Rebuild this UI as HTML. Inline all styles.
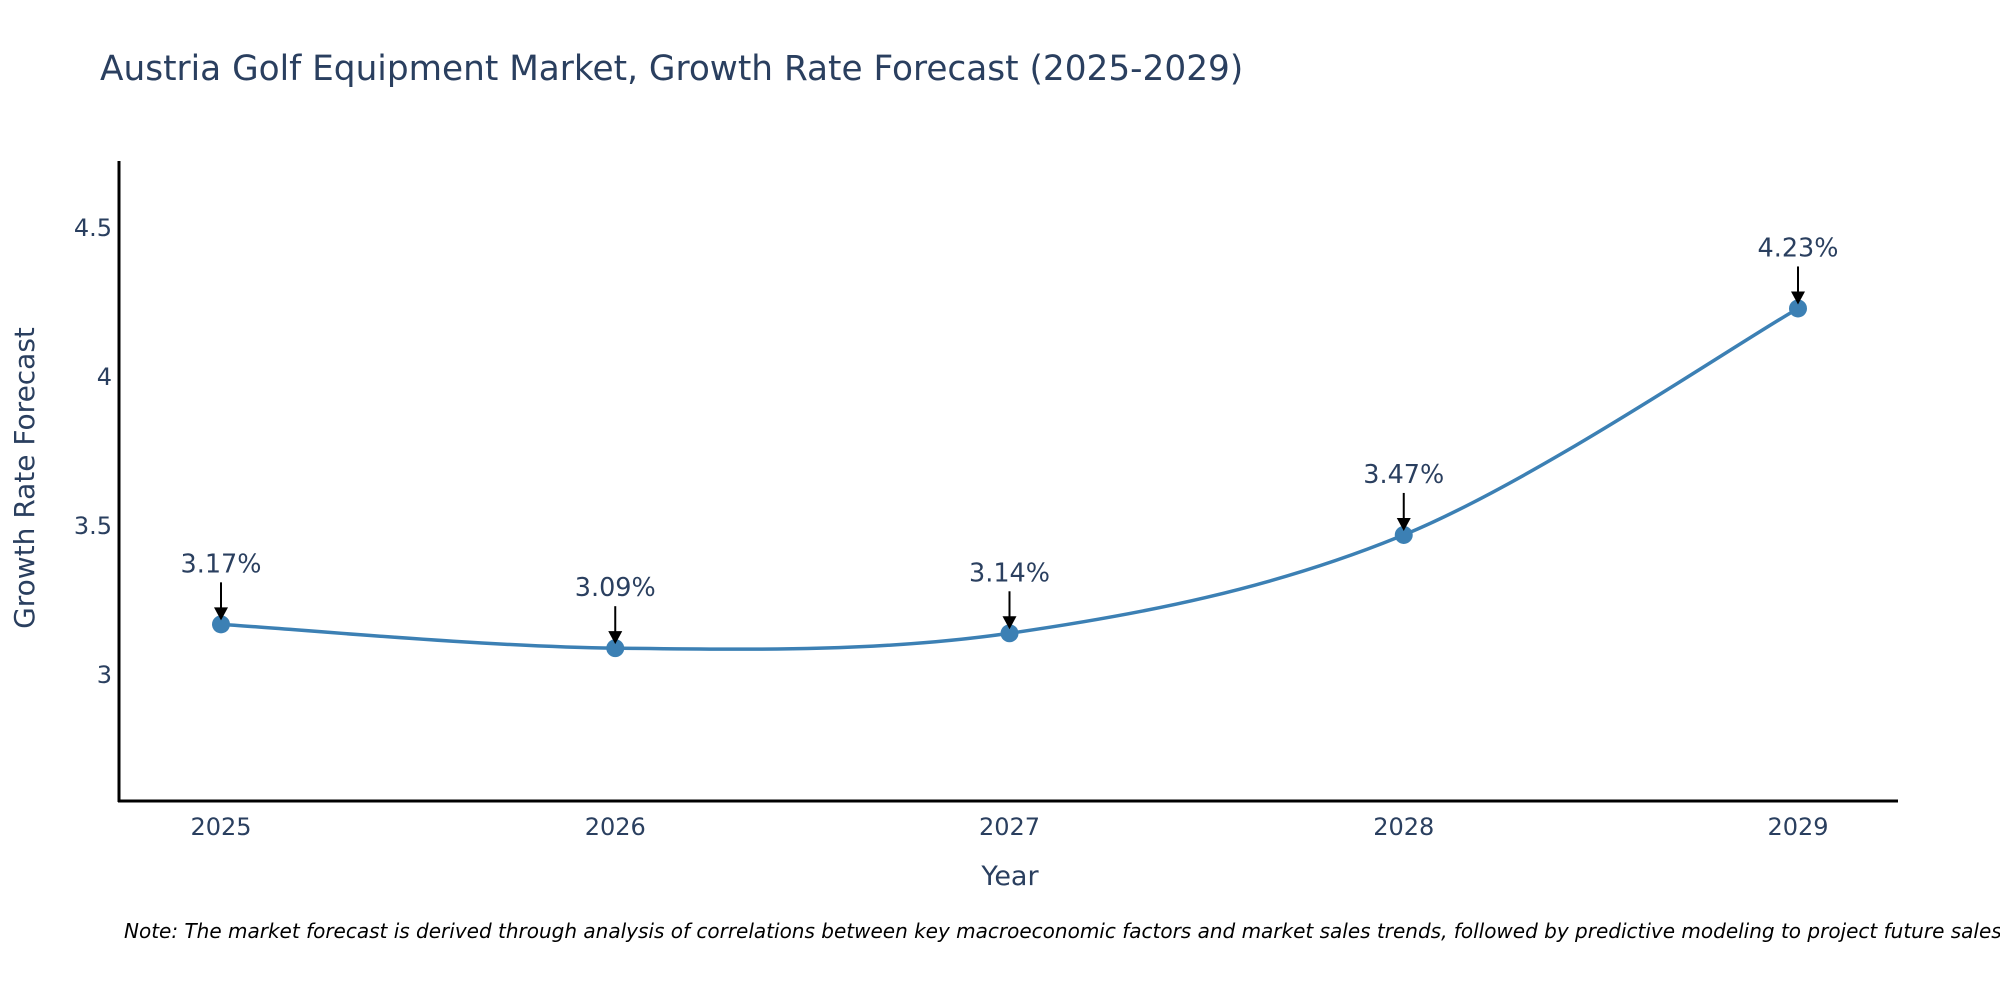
<!DOCTYPE html>
<html><head><meta charset="utf-8"><style>
body{margin:0;background:#fff;width:2000px;height:1000px;overflow:hidden}
svg text{font-family:"DejaVu Sans","Liberation Sans",sans-serif}
</style></head><body>
<svg id="chart" width="2000" height="1000" xmlns="http://www.w3.org/2000/svg">
<text x="100" y="80" font-size="34.3" fill="#2a3f5f">Austria Golf Equipment Market, Growth Rate Forecast (2025-2029)</text>
<g id="yticks"></g>
<g id="xticks"></g>
<line x1="119" y1="161" x2="119" y2="802" stroke="#000" stroke-width="3"/>
<line x1="118" y1="801" x2="1898" y2="801" stroke="#000" stroke-width="3"/>
<text x="1010" y="885" font-size="27" fill="#2a3f5f" text-anchor="middle">Year</text>
<text transform="translate(34,478) rotate(-90)" font-size="28" fill="#2a3f5f" text-anchor="middle">Growth Rate Forecast</text>
<path id="line" fill="none" stroke="#3c80b4" stroke-width="3.5"/>
<g id="points"></g>
<g id="annots"></g>
<text x="124" y="938" font-size="20" font-style="italic" fill="#000">Note: The market forecast is derived through analysis of correlations between key macroeconomic factors and market sales trends, followed by predictive modeling to project future sales.</text>
</svg>
<script>
const years = [2025, 2026, 2027, 2028, 2029];
const values = [3.17, 3.09, 3.14, 3.47, 4.23];
const labels = ["3.17%", "3.09%", "3.14%", "3.47%", "4.23%"];
const yTicks = [3, 3.5, 4, 4.5];
const yTickLabels = ["3", "3.5", "4", "4.5"];
const NS = "http://www.w3.org/2000/svg";
function xs(v){return 221 + (v - 2025) * 394.25;}
function ys(v){return 675 - (v - 3) * 298;}
function mk(tag, attrs, parent, txt){const e=document.createElementNS(NS,tag);for(const k in attrs)e.setAttribute(k,attrs[k]);if(txt!==undefined)e.textContent=txt;parent.appendChild(e);return e;}
const yt=document.getElementById('yticks');
yTicks.forEach((t,i)=>{const e=mk('text',{x:112,y:ys(t)+8,'font-size':24,fill:'#2a3f5f','text-anchor':'end'},yt,yTickLabels[i]);

});
const xt=document.getElementById('xticks');
years.forEach(y=>{const e=mk('text',{x:xs(y),y:835,'font-size':24,fill:'#2a3f5f','text-anchor':'middle'},xt,String(y));

});
const pts=years.map((y,i)=>[xs(y),ys(values[i])]);
let d='M'+pts[0][0]+','+pts[0][1];
const s=0.5;
for(let i=0;i<pts.length-1;i++){
 const p0=pts[Math.max(0,i-1)],p1=pts[i],p2=pts[i+1],p3=pts[Math.min(pts.length-1,i+2)];
 const c1=[p1[0]+(p2[0]-p0[0])*s/3,p1[1]+(p2[1]-p0[1])*s/3];
 const c2=[p2[0]-(p3[0]-p1[0])*s/3,p2[1]-(p3[1]-p1[1])*s/3];
 d+=' C'+c1[0]+','+c1[1]+' '+c2[0]+','+c2[1]+' '+p2[0]+','+p2[1];
}
document.getElementById('line').setAttribute('d',d);
const pg=document.getElementById('points'),ag=document.getElementById('annots');
pts.forEach((p,i)=>{
 const c=mk('circle',{cx:p[0],cy:p[1],r:9,fill:'#3c80b4'},pg);
 
 
 const l=mk('line',{x1:p[0],y1:p[1]-42,x2:p[0],y2:p[1]-14,stroke:'#000','stroke-width':2},ag);
 
 
 const h=mk('polygon',{points:(p[0]-7)+','+(p[1]-17)+' '+(p[0]+7)+','+(p[1]-17)+' '+p[0]+','+(p[1]-4),fill:'#000'},ag);
 
 
 const t=mk('text',{x:p[0],y:p[1]-52,'font-size':25.5,fill:'#2a3f5f','text-anchor':'middle'},ag,labels[i]);
 
 
});
</script>
</body></html>
